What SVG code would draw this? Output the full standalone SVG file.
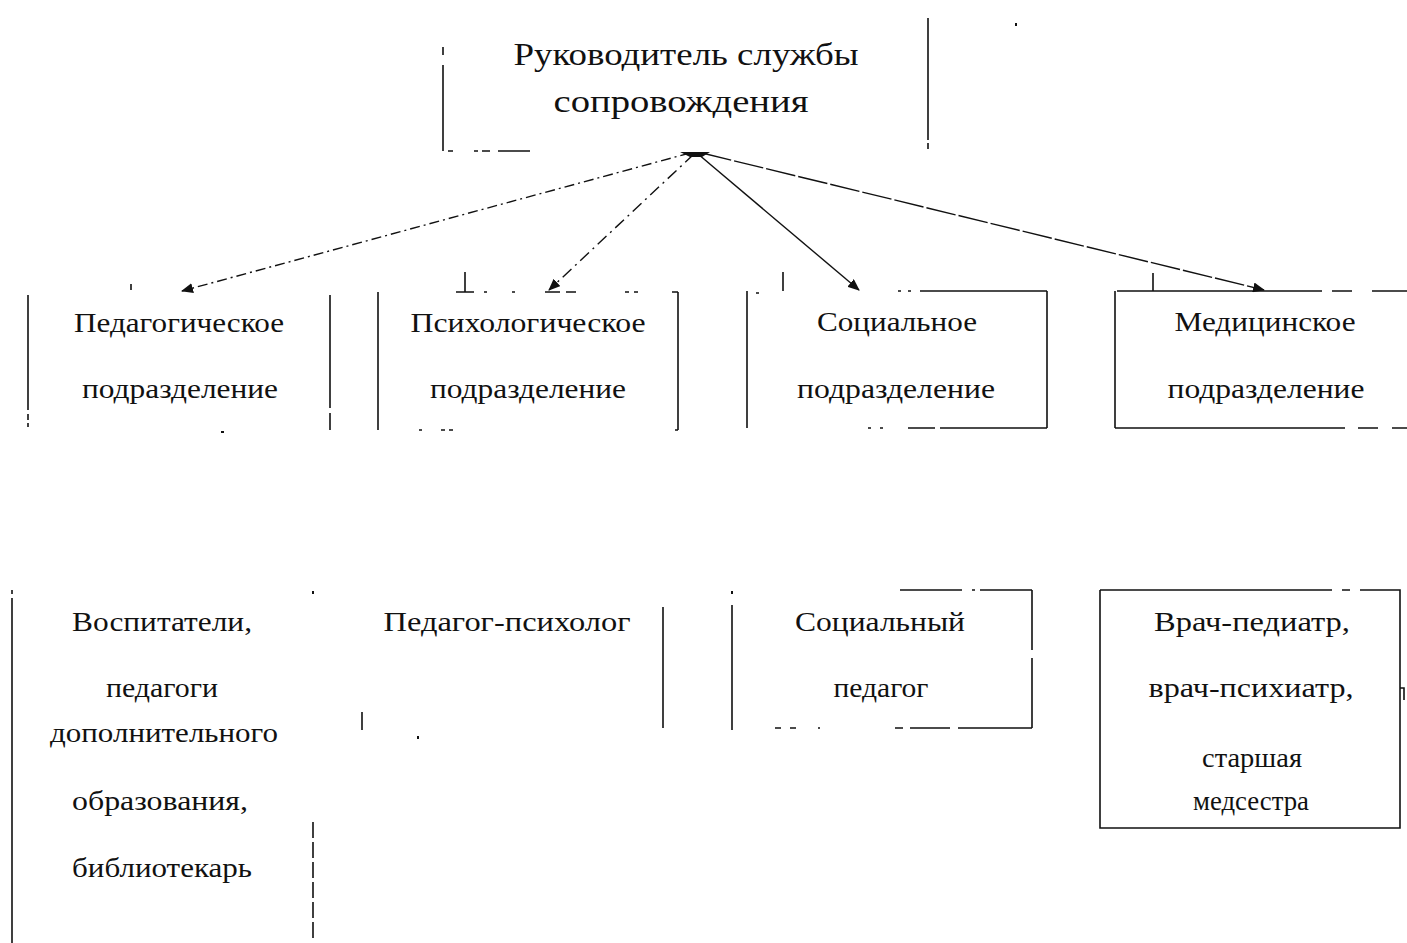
<svg xmlns="http://www.w3.org/2000/svg" width="1407" height="943" viewBox="0 0 1407 943">
<style>
.b{fill:none;stroke:#111;stroke-width:1.6}
.t{font-family:"Liberation Serif","Times New Roman",serif;font-size:27px;fill:#111;text-anchor:middle}
.tt{font-size:31px}
.c{fill:none;stroke:#111;stroke-width:1.4}
.d{fill:#111}
</style>
<defs>
<marker id="ah" viewBox="0 0 12 10" refX="11" refY="5" markerWidth="12" markerHeight="10" markerUnits="userSpaceOnUse" orient="auto">
<path d="M0,0 L12,5 L0,10 Z" fill="#111"/>
</marker>
</defs>
<rect width="1407" height="943" fill="#fff"/>

<g id="head">
<path class="b" d="M443,47 V55 M443,65 V151 M928,18 V140 M928,143 V149 M448,151 h5 M474,151 h4 M482,151 h8 M498,151 H530"/>
<rect class="d" x="1015" y="23" width="2" height="3"/>
<text class="t tt" x="686" y="65" textLength="345" lengthAdjust="spacingAndGlyphs">Руководитель службы</text>
<text class="t tt" x="681" y="112" textLength="255" lengthAdjust="spacingAndGlyphs">сопровождения</text>
</g>

<g id="connectors">
<path class="d" d="M680,152 L710,152 L702,157 L690,157 Z"/>
<line class="c" x1="690" y1="153" x2="182" y2="291" stroke-dasharray="10,4,2,4" marker-end="url(#ah)"/>
<line class="c" x1="694" y1="154" x2="549" y2="290" stroke-dasharray="12,5,2,5" marker-end="url(#ah)"/>
<line class="c" x1="698" y1="154" x2="859" y2="290" marker-end="url(#ah)"/>
<line class="c" x1="702" y1="153" x2="1264" y2="290" stroke-dasharray="30,3" marker-end="url(#ah)"/>
</g>

<g id="n-ped">
<path class="b" d="M28,295 V410 M28,414 V420 M28,423 V427 M330,295 V408 M330,413 V430 M131,284 V290"/>
<rect class="d" x="221" y="431" width="3" height="2"/>
<text class="t" x="179" y="332" textLength="210" lengthAdjust="spacingAndGlyphs">Педагогическое</text>
<text class="t" x="180" y="398" textLength="196" lengthAdjust="spacingAndGlyphs">подразделение</text>
</g>

<g id="n-psy">
<path class="b" d="M378,292 V430 M678,292 V430 M672,292 h6 M465,272 V292 M456,292 h18 M484,292 h3 M512,292 h3 M545,292 H560 M566,292 h10 M625,292 h4 M634,292 h4 M419,430 h3 M441,430 h4 M449,430 h4 M675,430 h3"/>
<text class="t" x="528" y="332" textLength="235" lengthAdjust="spacingAndGlyphs">Психологическое</text>
<text class="t" x="528" y="398" textLength="196" lengthAdjust="spacingAndGlyphs">подразделение</text>
</g>

<g id="n-soc">
<path class="b" d="M747,291 V428 M1047,291 V428 M783,272 V291 M756,293 h3 M898,291 h3 M908,291 h3 M920,291 H1047 M868,428 h3 M880,428 h3 M908,428 H935 M940,428 H1047"/>
<text class="t" x="897" y="331" textLength="160" lengthAdjust="spacingAndGlyphs">Социальное</text>
<text class="t" x="896" y="398" textLength="198" lengthAdjust="spacingAndGlyphs">подразделение</text>
</g>

<g id="n-med">
<path class="b" d="M1115,291 V428 M1117,291 H1322 M1332,291 H1352 M1372,291 H1407 M1153,273 V291 M1115,428 H1345 M1358,428 H1378 M1392,428 H1407"/>
<text class="t" x="1265" y="331" textLength="181" lengthAdjust="spacingAndGlyphs">Медицинское</text>
<text class="t" x="1266" y="398" textLength="197" lengthAdjust="spacingAndGlyphs">подразделение</text>
</g>

<g id="n-vosp">
<path class="b" d="M12,590 V594 M12,598 V943 M313,822 V838 M313,842 V858 M313,862 V878 M313,882 V898 M313,902 V918 M313,922 V938"/>
<rect class="d" x="312" y="591" width="2" height="3"/>
<text class="t" x="162" y="631" textLength="180" lengthAdjust="spacingAndGlyphs">Воспитатели,</text>
<text class="t" x="162" y="697" textLength="112" lengthAdjust="spacingAndGlyphs">педагоги</text>
<text class="t" x="164" y="742" textLength="228" lengthAdjust="spacingAndGlyphs">дополнительного</text>
<text class="t" x="160" y="810" textLength="176" lengthAdjust="spacingAndGlyphs">образования,</text>
<text class="t" x="162" y="877" textLength="180" lengthAdjust="spacingAndGlyphs">библиотекарь</text>
</g>

<g id="n-pedpsy">
<path class="b" d="M663,607 V728 M362,712 V730"/>
<rect class="d" x="417" y="736" width="2" height="3"/>
<text class="t" x="507" y="631" textLength="247" lengthAdjust="spacingAndGlyphs">Педагог-психолог</text>
</g>

<g id="n-socped">
<path class="b" d="M732,605 V730 M1032,590 V650 M1032,658 V728 M900,590 H962 M972,590 h3 M980,590 H1032 M775,728 h6 M790,728 h6 M818,728 h2 M895,728 h8 M910,728 H950 M958,728 H1032"/>
<rect class="d" x="731" y="591" width="2" height="3"/>
<text class="t" x="880" y="631" textLength="170" lengthAdjust="spacingAndGlyphs">Социальный</text>
<text class="t" x="881" y="697" textLength="95" lengthAdjust="spacingAndGlyphs">педагог</text>
</g>

<g id="n-doc">
<path class="b" d="M1100,590 H1332 M1342,590 H1350 M1360,590 H1400 V828 H1100 V590 M1400,688 h4 V700"/>
<text class="t" x="1252" y="631" textLength="196" lengthAdjust="spacingAndGlyphs">Врач-педиатр,</text>
<text class="t" x="1251" y="697" textLength="205" lengthAdjust="spacingAndGlyphs">врач-психиатр,</text>
<text class="t" x="1252" y="767" textLength="100" lengthAdjust="spacingAndGlyphs">старшая</text>
<text class="t" x="1251" y="810" textLength="116" lengthAdjust="spacingAndGlyphs">медсестра</text>
</g>
</svg>
